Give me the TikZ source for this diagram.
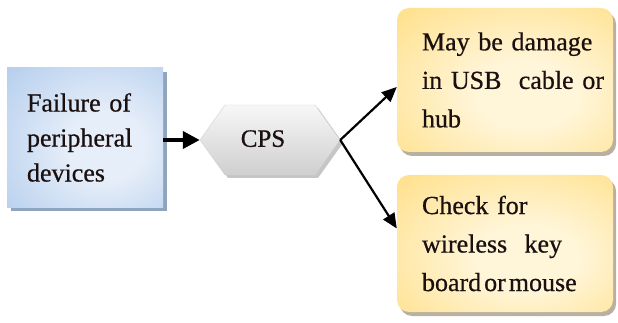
\documentclass[tikz,border=0pt]{standalone}
\usepackage{fontspec}
\setmainfont{Liberation Serif}
\usetikzlibrary{arrows.meta,shapes.symbols,shadows}

\definecolor{blueEdge}{HTML}{9BBDE7}
\definecolor{blueMid}{HTML}{E6EEF9}
\definecolor{blueShade}{HTML}{8FA5BF}
\definecolor{goldEdge}{HTML}{FFD257}
\definecolor{goldMid}{HTML}{FFF5D8}
\definecolor{goldShade}{HTML}{B8B0A0}
\definecolor{hexTop}{HTML}{F7F7F7}
\definecolor{hexBottom}{HTML}{CFCFCF}
\definecolor{ink}{HTML}{1A1010}

% soft glow: light centre, saturated rim
\pgfdeclareradialshading{blueglow}{\pgfpoint{8bp}{-4bp}}{%
  color(0bp)=(blueMid); color(12bp)=(blueMid);
  color(55bp)=(blueEdge); color(80bp)=(blueEdge)}
\pgfdeclareradialshading{goldglow}{\pgfpoint{6bp}{-6bp}}{%
  color(0bp)=(goldMid); color(12bp)=(goldMid);
  color(58bp)=(goldEdge); color(80bp)=(goldEdge)}

\newcommand\boxfont[2]{\fontsize{#1}{#2}\selectfont\addfontfeature{FakeBold=0.6}}

\tikzset{
  causebox/.style={rectangle, shade, shading=blueglow, text=ink,
    minimum width=156pt, minimum height=139pt,
    text width=116pt, inner xsep=20pt, align=left,
    font=\boxfont{26}{35},
    drop shadow={shadow xshift=4pt, shadow yshift=-4pt,
      fill=blueShade, opacity=1}},
  hexbox/.style={signal, signal to=west and east, signal pointer angle=109,
    shade, top color=hexTop, bottom color=hexBottom, text=ink,
    draw=gray!35, line width=0.4pt,
    minimum width=140pt, minimum height=70pt, inner sep=0pt,
    font=\boxfont{25}{30},
    drop shadow={shadow xshift=3pt, shadow yshift=-3pt,
      fill=gray!45, opacity=1}},
  hintbox/.style={rectangle, rounded corners=12pt, shade, shading=goldglow,
    text=ink, text width=166pt, inner xsep=25pt, align=left,
    font=\boxfont{26}{38.5},
    drop shadow={shadow xshift=3pt, shadow yshift=-4pt,
      fill=goldShade, opacity=1}},
  boldlink/.style={line width=4pt, -{Triangle[length=17pt,width=17pt]}},
  thinlink/.style={line width=2.2pt, -{Triangle[length=15pt,width=13pt]}}
}

\begin{document}
\begin{tikzpicture}[x=1pt, y=-1pt]
\useasboundingbox (0,0) rectangle (618,323);

% cause
\node[causebox] (fail) at (85,137.5)
  {Failure of\\peripheral\\devices};

% decision
\node[hexbox] (cps) at (270,140) {\raisebox{3pt}{CPS}\hspace*{14pt}};

% possible causes
\node[hintbox, minimum width=216pt, minimum height=144pt] (usb) at (505,80)
  {\mbox{May be damage}\\\mbox{in USB\ \ cable or}\\hub};
\node[hintbox, minimum width=216pt, minimum height=137pt] (wire) at (505,243.5)
  {\mbox{Check for}\\\mbox{wireless\ \ key}\\\mbox{board\hspace{3pt}or\hspace{3pt}mouse}};

% connectors
\draw[boldlink] (fail.east |- cps.west) -- (cps.west);
\draw[thinlink] (cps.east) -- ([yshift=-7pt]usb.west);
\draw[thinlink] (cps.east) -- ([yshift=15pt]wire.west);
\end{tikzpicture}
\end{document}
